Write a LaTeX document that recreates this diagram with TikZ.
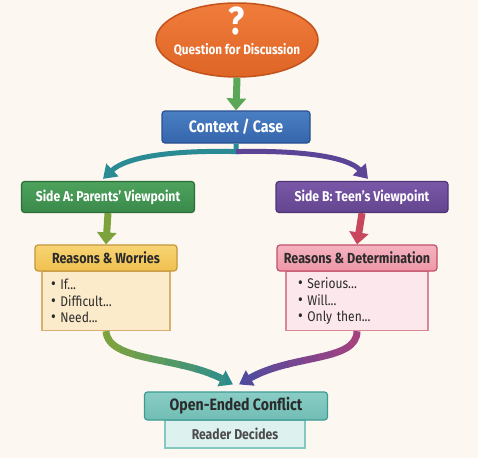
\documentclass[tikz,border=0pt]{standalone}
\usepackage{fontspec}
\setmainfont{Fira Sans}[FakeStretch=0.86]
\usepackage{tikz}
\usetikzlibrary{shapes.geometric, arrows.meta}
\usepackage{xcolor}

\definecolor{bgcream}{HTML}{FCF7F0}
\definecolor{inkdark}{HTML}{2B2B2B}
\definecolor{qtop}{HTML}{F07C3C}
\definecolor{qbot}{HTML}{DE6526}
\definecolor{qline}{HTML}{C2531C}
\definecolor{arrowgreen}{HTML}{5AA857}
\definecolor{ctxtop}{HTML}{4A7FC4}
\definecolor{ctxbot}{HTML}{3565AA}
\definecolor{ctxline}{HTML}{2A5090}
\definecolor{branchteal}{HTML}{2B8B94}
\definecolor{branchpurple}{HTML}{5C4496}
\definecolor{atop}{HTML}{4DA25C}
\definecolor{abot}{HTML}{3A8A4B}
\definecolor{aline}{HTML}{2B6E3A}
\definecolor{btop}{HTML}{7A58A8}
\definecolor{bbot}{HTML}{63458F}
\definecolor{bline}{HTML}{4E3578}
\definecolor{olivearrow}{HTML}{7BA23B}
\definecolor{redarrow}{HTML}{C9475D}
\definecolor{wtop}{HTML}{F7D474}
\definecolor{wbot}{HTML}{F0C050}
\definecolor{wline}{HTML}{C6973A}
\definecolor{wfill}{HTML}{FCEBCA}
\definecolor{wbodyline}{HTML}{D6B06C}
\definecolor{dtop}{HTML}{F5B3C0}
\definecolor{dbot}{HTML}{EE97A8}
\definecolor{dline}{HTML}{C2506A}
\definecolor{dfill}{HTML}{FCE8EC}
\definecolor{dbodyline}{HTML}{D98898}
\definecolor{mixolive}{HTML}{86A637}
\definecolor{mixteal}{HTML}{2A8C8F}
\definecolor{mixmagenta}{HTML}{B0407C}
\definecolor{mixblue}{HTML}{4A4CA0}
\definecolor{ctop}{HTML}{8ACDC5}
\definecolor{cbot}{HTML}{70BDB4}
\definecolor{cline}{HTML}{3D9B95}
\definecolor{rfill}{HTML}{DDF1EE}
\definecolor{rline}{HTML}{84C8C0}

\newcommand{\dotitem}{{\fontsize{17}{16.5}\selectfont\textbullet}\ }

\begin{document}
\begin{tikzpicture}[x=1pt, y=-1pt,
    sidebox/.style={rectangle, rounded corners=3pt, line width=1.2pt, minimum height=31pt,
        text=white, font=\bfseries\fontsize{14.2}{16}\selectfont},
    headbox/.style={rectangle, rounded corners=3pt, line width=1.2pt, minimum height=26pt,
        text=inkdark, font=\bfseries\fontsize{14.6}{16}\selectfont},
    listbox/.style={rectangle, line width=1.2pt, minimum height=59pt, anchor=north,
        align=left, text=inkdark, font=\fontsize{14}{16.5}\selectfont},
    bigarrow/.style={line width=7pt, -{Triangle[width=19pt,length=12pt]}},
    bendarrow/.style={line width=5pt, -{Triangle[width=17pt,length=13pt]}}]

    \fill[bgcream] (0,0) rectangle (478,458);
    \useasboundingbox (0,0) rectangle (478,458);

    % question at the top
    \node[ellipse, top color=qtop, bottom color=qbot, draw=qline, line width=1.5pt,
        minimum width=162pt, minimum height=74pt] (q) at (237,40) {};
    \node[text=white, font=\bfseries\fontsize{39}{39}\selectfont] (qmark) at (237,21) {?};
    \node[text=white, font=\bfseries\fontsize{13.6}{15}\selectfont] (qtext) at (237,50) {Question for Discussion};

    \node[sidebox, top color=ctxtop, bottom color=ctxbot, draw=ctxline,
        minimum width=148pt, minimum height=32pt, font=\bfseries\fontsize{16.5}{18}\selectfont] (ctx) at (236,127) {Context / Case};

    % the two sides
    \node[sidebox, top color=atop, bottom color=abot, draw=aline, minimum width=173pt] (sideA) at (108,197) {Side A: Parents’ Viewpoint};
    \node[sidebox, top color=btop, bottom color=bbot, draw=bline, minimum width=172pt] (sideB) at (362,197) {Side B: Teen’s Viewpoint};

    \node[listbox, fill=wfill, draw=wbodyline, minimum width=128pt, text width=110pt] (rwBody) at (106,271)
        {\dotitem If...\\ \dotitem Difficult...\\ \dotitem Need...};
    \node[headbox, top color=wtop, bottom color=wbot, draw=wline, minimum width=142pt] (rwHead) at (106,258) {Reasons \& Worries};

    \node[listbox, fill=dfill, draw=dbodyline, minimum width=142pt, text width=118pt] (rdBody) at (357,271)
        {\dotitem Serious...\\ \dotitem Will...\\ \dotitem Only then...};
    \node[headbox, top color=dtop, bottom color=dbot, draw=dline, minimum width=160pt] (rdHead) at (357,258) {Reasons \& Determination};

    % outcome
    \node[rectangle, fill=rfill, draw=rline, line width=1.2pt, minimum width=140pt, minimum height=28pt,
        text=inkdark!85, font=\bfseries\fontsize{14.2}{16}\selectfont] (reader) at (235,434) {Reader Decides};
    \node[headbox, top color=ctop, bottom color=cbot, draw=cline, minimum width=183pt, minimum height=28pt,
        font=\bfseries\fontsize{16.4}{18}\selectfont] (conflict) at (236,406) {Open-Ended Conflict};

    % connectors
    \draw[bigarrow, arrowgreen] (q.south) -- (ctx.north);
    \draw[bendarrow, branchteal] (ctx.south) -- ++(0,8) .. controls (172,150) and (126,157) .. ([xshift=-5pt,yshift=2pt]sideA.north);
    \draw[bendarrow, branchpurple] ([yshift=-8pt]ctx.south) .. controls (302,150) and (348,157) .. ([xshift=6pt,yshift=2pt]sideB.north);
    \draw[bigarrow, olivearrow] (sideA.south) -- (rwHead.north);
    \draw[bigarrow, redarrow] (sideB.south) -- (rdHead.north);

    \foreach \i in {0,...,9} {
        \pgfmathtruncatemacro\mixval{100-11*\i}
        \begin{scope}
            \clip (90+15*\i,320) rectangle ++(16,80);
            \draw[bendarrow, line width=7pt, mixolive!\mixval!mixteal] (rwBody.south)
                .. controls (108,362) and (178,356) .. ([xshift=-3pt,yshift=7pt]conflict.north);
        \end{scope}
        \pgfmathtruncatemacro\mixvalb{11*\i}
        \begin{scope}
            \clip (228+15*\i,320) rectangle ++(16,80);
            \draw[bendarrow, line width=7pt, mixmagenta!\mixvalb!mixblue] (rdBody.south)
                .. controls (357,362) and (292,354) .. ([xshift=3pt,yshift=7pt]conflict.north);
        \end{scope}
    }
\end{tikzpicture}
\end{document}
